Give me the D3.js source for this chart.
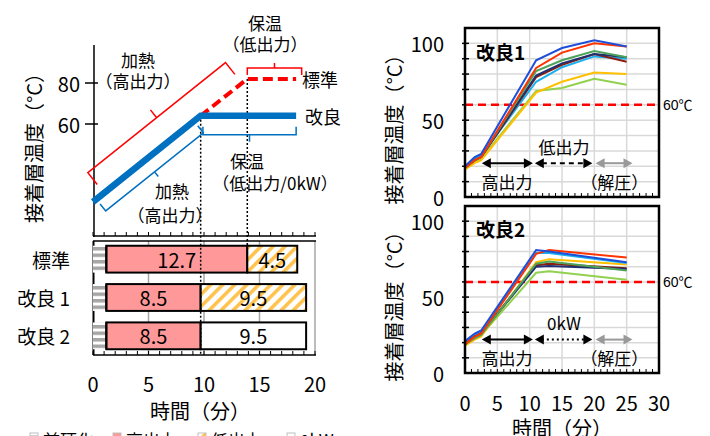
<!DOCTYPE html>
<html>
<head>
<meta charset="utf-8">
<script src="https://cdn.jsdelivr.net/npm/d3@7"></script>
<style>
body { margin: 0; background: #fff; }
svg { display: block; font-family: "Noto Sans CJK JP", "Noto Sans", sans-serif; }
</style>
</head>
<body>
<div id="chart"></div>
<script>
// 接着層温度 — process schematic (left) and measured profiles (right)
const width = 710, height = 436;

// left: bar chart of process time
const categories = ["標準", "改良 1", "改良 2"];
const precure = [1.2, 1.2, 1.2];
const highPower = [12.7, 8.5, 8.5];
const lowPower = [4.5, 9.5, 0];
const zeroPower = [0, 0, 9.5];
const legendNames = ["前硬化", "高出力", "低出力", "0kW"];
const timeTicks = [0, 5, 10, 15, 20];
const tempTicks = [60, 80];

// left: schematic temperature profiles
const stdTime = [0, 9.7, 13.9, 18.3];
const stdTemp = [22, 64, 82, 82];
const impTime = [0, 9.7, 18.3];
const impTemp = [22, 64, 64];

// right: measured curves
const seriesColors = ["#1f4fd8", "#ff3300", "#4ea35a", "#1f2f6f", "#8b1e10", "#19b0ee", "#ffc000", "#92d050"];
const times1 = [0, 1.5, 2.5, 11, 15, 20, 25];
const kairyo1 = [
    [20, 26, 28, 89, 97, 102, 98],
    [19, 24, 26, 84, 94, 100, 98],
    [19, 24, 26, 82, 89, 95, 91],
    [19, 24, 26, 79, 87, 93, 91],
    [19, 24, 26, 78, 86, 93, 88],
    [20, 25, 27, 75, 84.5, 91.5, 90],
    [18, 22, 24, 68, 75, 81, 80],
    [19, 23, 25, 69, 71, 77, 73]
];
const times2 = [0, 1.5, 2.5, 11, 13, 25];
const kairyo2 = [
    [21, 26, 28, 81, 80, 73],
    [19, 24, 26, 78.5, 81, 76],
    [19, 23, 25, 72, 73.5, 67.5],
    [19, 24, 26, 70, 70.5, 68.5],
    [19, 24, 26, 71, 72, 69],
    [20, 25, 27, 79, 79, 72.5],
    [18, 22, 24, 73, 75, 71.5],
    [19, 23, 25, 66, 67, 61.5]
];
const rightXTicks = [0, 5, 10, 15, 20, 25, 30];
const rightYTicks = [0, 50, 100];

const svg = d3.select("#chart").append("svg")
    .attr("width", width)
    .attr("height", height);

const defs = svg.append("defs");
const stripe = defs.append("pattern").attr("id", "pre")
    .attr("patternUnits", "userSpaceOnUse").attr("width", 6).attr("height", 6.5);
stripe.append("rect").attr("width", 6).attr("height", 6.5).attr("fill", "#fff");
stripe.append("rect").attr("width", 6).attr("height", 3.5).attr("fill", "#a6a6a6");
const hatch = defs.append("pattern").attr("id", "hatch")
    .attr("patternUnits", "userSpaceOnUse").attr("width", 8.5).attr("height", 8.5)
    .attr("patternTransform", "rotate(45)");
hatch.append("rect").attr("width", 8.5).attr("height", 8.5).attr("fill", "#fff");
hatch.append("rect").attr("width", 3.6).attr("height", 8.5).attr("fill", "#ffc34d");

const fills = { pre: "url(#pre)", high: "#ff9999", low: "url(#hatch)", zero: "#fff" };

// ---------- left panel ----------
const xT = d3.scaleLinear().domain([0, 20]).range([93, 315]);
const yT = d3.scaleLinear().domain([20, 80]).range([206, 83]);
const yB = d3.scaleBand().domain(categories).range([240, 355]).paddingInner(0.3).paddingOuter(0.15);

const left = svg.append("g");

// schematic axis
left.append("line").attr("x1", 94).attr("x2", 94).attr("y1", 45).attr("y2", 237)
    .attr("stroke", "#000").attr("stroke-width", 1.5);
left.selectAll(".ttick").data(tempTicks).enter().append("line")
    .attr("x1", 85).attr("x2", 98)
    .attr("y1", d => yT(d)).attr("y2", d => yT(d))
    .attr("stroke", "#000").attr("stroke-width", 1.5);
left.selectAll(".tlabel").data(tempTicks).enter().append("text")
    .attr("x", 80).attr("y", d => yT(d))
    .attr("text-anchor", "end").attr("dominant-baseline", "central")
    .attr("font-size", 20).text(d => d);
left.append("text")
    .attr("transform", "translate(33,143) rotate(-90)")
    .attr("text-anchor", "middle").attr("dominant-baseline", "central")
    .attr("font-size", 20).text("接着層温度（°C）");

// minor tick rows
function minorRow(g, y, x0, x1, scale) {
    g.append("line").attr("x1", x0).attr("x2", x1).attr("y1", y).attr("y2", y)
        .attr("stroke", "#000").attr("stroke-width", 1.5);
    g.selectAll(null).data(d3.range(0, 21)).enter().append("line")
        .attr("x1", d => scale(d)).attr("x2", d => scale(d))
        .attr("y1", y - 4).attr("y2", y)
        .attr("stroke", "#000").attr("stroke-width", 1);
}
minorRow(left, 236, 93, 316, xT);

// bar frame + grid
left.selectAll(".vgrid").data(timeTicks.slice(1)).enter().append("line")
    .attr("x1", d => xT(d)).attr("x2", d => xT(d))
    .attr("y1", 241).attr("y2", 355)
    .attr("stroke", "#a6a6a6").attr("stroke-width", 1.5);
left.append("line").attr("x1", 93).attr("x2", 316).attr("y1", 241).attr("y2", 241)
    .attr("stroke", "#000").attr("stroke-width", 1.5);
left.append("line").attr("x1", 93.5).attr("x2", 93.5).attr("y1", 241).attr("y2", 355)
    .attr("stroke", "#000").attr("stroke-width", 2);
minorRow(left, 355, 93, 316, xT);

// bars
const segs = [];
categories.forEach((c, i) => {
    const parts = [["pre", precure[i]], ["high", highPower[i]], ["low", lowPower[i]], ["zero", zeroPower[i]]];
    let x0 = 0;
    parts.forEach(([key, v]) => {
        if (v > 0) segs.push({ cat: c, key, x0, x1: x0 + v, v });
        x0 += v;
    });
});
left.selectAll(".seg").data(segs).enter().append("rect")
    .attr("x", d => xT(d.x0)).attr("width", d => xT(d.x1) - xT(d.x0))
    .attr("y", d => yB(d.cat)).attr("height", yB.bandwidth())
    .attr("fill", d => fills[d.key])
    .attr("stroke", "#000").attr("stroke-width", d => d.key === "pre" ? 0 : 2);
left.selectAll(".pre-edge").data(categories).enter().append("line")
    .attr("x1", d => xT(precure[categories.indexOf(d)])).attr("x2", d => xT(precure[categories.indexOf(d)]))
    .attr("y1", d => yB(d)).attr("y2", d => yB(d) + yB.bandwidth())
    .attr("stroke", "#000").attr("stroke-width", 2);
left.selectAll(".seglabel").data(segs.filter(d => d.key !== "pre")).enter().append("text")
    .attr("x", d => (xT(d.x0) + xT(d.x1)) / 2)
    .attr("y", d => yB(d.cat) + yB.bandwidth() / 2)
    .attr("text-anchor", "middle").attr("dominant-baseline", "central")
    .attr("font-size", 20).text(d => d.v.toFixed(1));
left.selectAll(".catlabel").data(categories).enter().append("text")
    .attr("x", 70).attr("y", d => yB(d) + yB.bandwidth() / 2)
    .attr("text-anchor", "end").attr("dominant-baseline", "central")
    .attr("font-size", 19).text(d => d);

// time axis labels
left.selectAll(".xlabel").data(timeTicks).enter().append("text")
    .attr("x", d => xT(d)).attr("y", 383)
    .attr("text-anchor", "middle").attr("dominant-baseline", "central")
    .attr("font-size", 20).text(d => d);
left.append("text").attr("x", 200).attr("y", 410)
    .attr("text-anchor", "middle").attr("dominant-baseline", "central")
    .attr("font-size", 20).text("時間（分）");

// dotted guides
left.append("line").attr("x1", xT(9.7)).attr("x2", xT(9.7)).attr("y1", yT(64)).attr("y2", 355)
    .attr("stroke", "#000").attr("stroke-width", 1.5).attr("stroke-dasharray", "2,2");
left.append("line").attr("x1", xT(13.9)).attr("x2", xT(13.9)).attr("y1", yT(82)).attr("y2", yB("標準"))
    .attr("stroke", "#000").attr("stroke-width", 1.5).attr("stroke-dasharray", "2,2");

// schematic lines
const lineT = d3.line().x(d => xT(d[0])).y(d => yT(d[1]));
left.append("path").datum(d3.zip(stdTime, stdTemp).slice(1))
    .attr("d", lineT).attr("fill", "none")
    .attr("stroke", "#ff0000").attr("stroke-width", 4).attr("stroke-dasharray", "10,5");
left.append("path").datum(d3.zip(impTime, impTemp))
    .attr("d", lineT).attr("fill", "none")
    .attr("stroke", "#0070c0").attr("stroke-width", 6.5);

// brackets: spine offset from the line, caps toward the line, notch away
function bracket(p1, p2, off, cap, notch, color) {
    const dx = p2[0] - p1[0], dy = p2[1] - p1[1], L = Math.hypot(dx, dy);
    const nx = -dy / L, ny = dx / L, s = Math.sign(off);
    const a = [p1[0] + nx * off, p1[1] + ny * off];
    const b = [p2[0] + nx * off, p2[1] + ny * off];
    const m = [(a[0] + b[0]) / 2, (a[1] + b[1]) / 2];
    const path = d3.path();
    path.moveTo(a[0] - s * nx * cap, a[1] - s * ny * cap);
    path.lineTo(a[0], a[1]);
    path.lineTo(b[0], b[1]);
    path.lineTo(b[0] - s * nx * cap, b[1] - s * ny * cap);
    path.moveTo(m[0], m[1]);
    path.lineTo(m[0] + s * nx * notch, m[1] + s * ny * notch);
    left.append("path").attr("d", path.toString()).attr("fill", "none")
        .attr("stroke", color).attr("stroke-width", 1.5);
}
const slopeT = t => 22 + (64 - 22) / 9.7 * t;
bracket([xT(1.0), yT(slopeT(1.0))], [xT(13.4), yT(slopeT(13.4))], -26, 15, 10, "#ff0000");
bracket([xT(0.3), yT(slopeT(0.3))], [xT(9.1), yT(slopeT(9.1))], 15, 9, 6, "#0070c0");
bracket([xT(9.9), yT(64)], [xT(18.3), yT(64)], 19, 8, 7, "#0070c0");
bracket([xT(13.9), yT(82)], [xT(18.8), yT(82)], -11, 7, 5, "#ff0000");

const notes = [
    { x: 138, y: 59, t: "加熱" }, { x: 138, y: 80, t: "（高出力）" },
    { x: 265, y: 22, t: "保温" }, { x: 265, y: 43, t: "（低出力）" },
    { x: 247, y: 160, t: "保温" }, { x: 275, y: 182, t: "（低出力/0kW）" },
    { x: 172, y: 190, t: "加熱" }, { x: 170, y: 214, t: "（高出力）" }
];
left.selectAll(".note").data(notes).enter().append("text")
    .attr("x", d => d.x).attr("y", d => d.y)
    .attr("text-anchor", "middle").attr("dominant-baseline", "central")
    .attr("font-size", 17).text(d => d.t);
left.append("text").attr("x", 302).attr("y", yT(82)).attr("dominant-baseline", "central")
    .attr("font-size", 18).text("標準");
left.append("text").attr("x", 305).attr("y", yT(64)).attr("dominant-baseline", "central")
    .attr("font-size", 18).text("改良");

// legend (cut off at the bottom edge)
const legX = [30, 113, 198, 287];
const legFill = [fills.pre, fills.high, fills.low, fills.zero];
legendNames.forEach((n, i) => {
    left.append("rect").attr("x", legX[i]).attr("y", 433).attr("width", 8).attr("height", 8)
        .attr("fill", legFill[i]).attr("stroke", "#bfbfbf");
    left.append("text").attr("x", legX[i] + 13).attr("y", 447)
        .attr("font-size", 17).text(n);
});

// ---------- right panels ----------
const xR = d3.scaleLinear().domain([0, 30]).range([465, 659]);

function panel(y0, y1, times, data, title, midText, midDash, showX) {
    const g = svg.append("g");
    const y = d3.scaleLinear().domain([0, 110]).range([y0, y1]);

    g.selectAll(".vg").data([5, 10, 15, 20, 25]).enter().append("line")
        .attr("x1", d => xR(d)).attr("x2", d => xR(d)).attr("y1", y1).attr("y2", y0)
        .attr("stroke", "#d9d9d9").attr("stroke-width", 1.5);
    g.selectAll(".hg").data(d3.range(10, 110, 10)).enter().append("line")
        .attr("x1", xR(0)).attr("x2", xR(30)).attr("y1", d => y(d)).attr("y2", d => y(d))
        .attr("stroke", "#d9d9d9").attr("stroke-width", 1.5);
    g.selectAll(".lt").data(d3.range(10, 110, 10)).enter().append("line")
        .attr("x1", xR(0) - 3).attr("x2", xR(0) + 4).attr("y1", d => y(d)).attr("y2", d => y(d))
        .attr("stroke", "#000").attr("stroke-width", 1.5);
    g.selectAll(".bt").data(d3.range(1, 30)).enter().append("line")
        .attr("x1", d => xR(d)).attr("x2", d => xR(d)).attr("y1", y0 - 4).attr("y2", y0)
        .attr("stroke", "#000").attr("stroke-width", 1);

    // 60°C line
    g.append("line").attr("x1", xR(0)).attr("x2", xR(30)).attr("y1", y(60)).attr("y2", y(60))
        .attr("stroke", "#ff0000").attr("stroke-width", 2.5).attr("stroke-dasharray", "8,5");
    g.append("text").attr("x", 663).attr("y", y(60)).attr("dominant-baseline", "central")
        .attr("font-size", 14).attr("font-family", "Liberation Sans, Noto Sans CJK JP").text("60℃");

    const line = d3.line().x(d => xR(d[0])).y(d => y(d[1]));
    const order = [7, 6, 5, 4, 3, 2, 1, 0];
    order.forEach(i => {
        g.append("path").datum(d3.zip(times, data[i]))
            .attr("d", line).attr("fill", "none")
            .attr("stroke", seriesColors[i]).attr("stroke-width", 2);
    });

    g.append("rect").attr("x", xR(0)).attr("y", y1).attr("width", xR(30) - xR(0)).attr("height", y0 - y1)
        .attr("fill", "none").attr("stroke", "#000").attr("stroke-width", 2.5);

    g.selectAll(".yl").data(rightYTicks).enter().append("text")
        .attr("x", 444).attr("y", d => y(d))
        .attr("text-anchor", "end").attr("dominant-baseline", "central")
        .attr("font-size", 20).text(d => d);
    g.append("text")
        .attr("transform", `translate(393,${(y0 + y1) / 2 + 12}) rotate(-90)`)
        .attr("text-anchor", "middle").attr("dominant-baseline", "central")
        .attr("font-size", 20).text("接着層温度（°C）");
    g.append("text").attr("x", 476).attr("y", y(95)).attr("dominant-baseline", "central")
        .attr("font-size", 19).attr("font-weight", "bold").text(title);

    // process arrows
    const ay = y(22);
    function arrow(t0, t1, color, dash) {
        const xa = xR(t0), xb = xR(t1);
        g.append("line").attr("x1", xa + 7).attr("x2", xb - 7).attr("y1", ay).attr("y2", ay)
            .attr("stroke", color).attr("stroke-width", 2)
            .attr("stroke-dasharray", dash || null);
        g.append("path").attr("d", `M${xa},${ay}L${xa + 9},${ay - 5}L${xa + 9},${ay + 5}Z`).attr("fill", color);
        g.append("path").attr("d", `M${xb},${ay}L${xb - 9},${ay - 5}L${xb - 9},${ay + 5}Z`).attr("fill", color);
    }
    arrow(2.6, 10.5, "#000");
    arrow(10.8, 19.7, "#000", midDash);
    arrow(20.2, 25.9, "#999");
    g.append("text").attr("x", xR(6.5)).attr("y", y(10)).attr("text-anchor", "middle")
        .attr("dominant-baseline", "central").attr("font-size", 17).text("高出力");
    g.append("text").attr("x", xR(23.1)).attr("y", y(10)).attr("text-anchor", "middle")
        .attr("dominant-baseline", "central").attr("font-size", 17).text("（解圧）");
    g.append("text").attr("x", xR(15.3)).attr("y", y(33)).attr("text-anchor", "middle")
        .attr("dominant-baseline", "central").attr("font-size", 17).text(midText);

    if (showX) {
        g.selectAll(".xl").data(rightXTicks).enter().append("text")
            .attr("x", d => xR(d)).attr("y", 402)
            .attr("text-anchor", "middle").attr("dominant-baseline", "central")
            .attr("font-size", 20).text(d => d);
        g.append("text").attr("x", 562).attr("y", 427)
            .attr("text-anchor", "middle").attr("dominant-baseline", "central")
            .attr("font-size", 20).text("時間（分）");
    }
}

panel(197, 28, times1, kairyo1, "改良1", "低出力", "5,4", false);
panel(373, 206, times2, kairyo2, "改良2", "0kW", "2,3", true);
</script>
</body>
</html>
